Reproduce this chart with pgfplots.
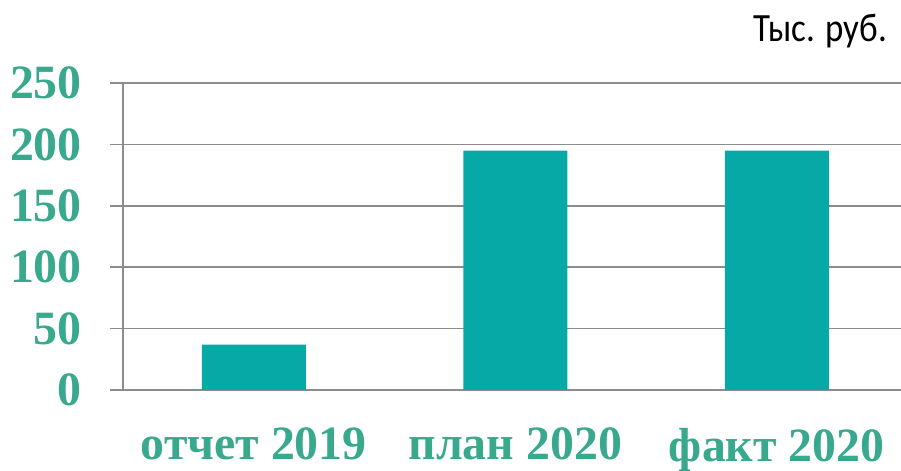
\documentclass[border=0pt]{standalone}
\usepackage{fontspec}
\setmainfont{Liberation Serif}
\newfontfamily\calfont{Carlito}
\usepackage{pgfplots}
\pgfplotsset{compat=1.18}
\definecolor{barc}{HTML}{06A9A5}
\definecolor{labc}{HTML}{38A98C}
\definecolor{gridc}{HTML}{8C8C8C}
\begin{document}
\begin{tikzpicture}[x=1bp,y=1bp]
\useasboundingbox (0,0) rectangle (901,471);
\begin{axis}[
  at={(123bp,81bp)}, anchor=south west,
  scale only axis, width=784.5bp, height=307bp,
  xmin=-0.5, xmax=2.5, ymin=0, ymax=250,
  ytick={0,50,100,150,200,250},
  xtick=data, xticklabels={отчет 2019, план 2020, факт 2020},
  ybar, bar width=104bp,
  axis x line=bottom, axis y line=left,
  axis line style={gridc, line width=1.5bp, -},
  ymajorgrids, grid style={gridc, line width=1.5bp},
  tick align=outside, major tick length=13bp,
  ytick style={gridc, line width=1.5bp},
  xtick style={draw=none},
  /pgf/number format/assume math mode=true,
  yticklabel style={font=\fontsize{48}{48}\selectfont\bfseries, text=labc, inner sep=0pt, anchor=east, xshift=-28bp},
  xticklabel style={font=\fontsize{48}{48}\selectfont\bfseries, text=labc, inner sep=0pt, anchor=north, yshift=-25bp},
]
\addplot[fill=barc, draw=none] coordinates {(0,37) (1,195) (2,195)};
\end{axis}
\node[anchor=base east, inner sep=0pt, yscale=1.15, font=\calfont\fontsize{35}{35}\selectfont] at (887,429) {Тыс. руб.};
\end{tikzpicture}
\end{document}
